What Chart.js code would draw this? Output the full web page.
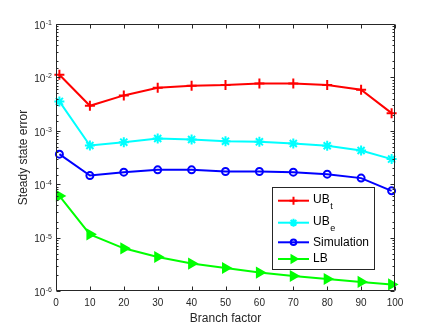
<!DOCTYPE html>
<html>
<head>
<meta charset="utf-8">
<script src="https://cdn.jsdelivr.net/npm/chart.js@4.4.0/dist/chart.umd.min.js"></script>
<style>
  html, body { margin: 0; padding: 0; background: #fff; }
  #wrap { width: 436px; height: 327px; }
</style>
</head>
<body>
<div id="wrap"><canvas id="errChart" width="436" height="327"></canvas></div>
<script>
// branch factor on x, steady state error on y (log)
var branchFactors = [1, 10, 20, 30, 40, 50, 60, 70, 80, 90, 99];
var ubT = [0.0112, 0.00294, 0.0046, 0.0064, 0.0070, 0.0072, 0.0077, 0.0077, 0.0072, 0.00587, 0.00214];
var ubE = [0.00355, 0.00053, 0.000613, 0.000718, 0.000688, 0.00064, 0.000622, 0.000579, 0.000524, 0.000428, 0.000295];
var simulation = [0.000365, 0.000145, 0.000168, 0.000186, 0.000186, 0.000173, 0.000173, 0.000168, 0.000154, 0.00013, 0.000075];
var lowerBound = [6.04e-5, 1.15e-5, 6.3e-6, 4.34e-6, 3.26e-6, 2.7e-6, 2.21e-6, 1.91e-6, 1.68e-6, 1.48e-6, 1.33e-6];
var seriesNames = [['UB', 't'], ['UB', 'e'], ['Simulation', ''], ['LB', '']];
var xTickValues = [0, 10, 20, 30, 40, 50, 60, 70, 80, 90, 100];

var axisColor = '#262626';
var fontFamily = '"Liberation Sans", Arial, Helvetica, sans-serif';

function toPoints(values) {
    return values.map(function (v, i) {
        return { x: branchFactors[i], y: v };
    });
}

function makeSet(name, values, color, style, radius, fill, rot) {
    return {
        label: name,
        data: toPoints(values),
        borderColor: color,
        backgroundColor: fill,
        borderWidth: 2,
        pointStyle: style,
        pointRadius: radius,
        pointRotation: rot || 0,
        pointBorderColor: color,
        pointBackgroundColor: fill,
        pointBorderWidth: 2,
        tension: 0,
        clip: false
    };
}

var datasets = [
    makeSet('UBt', ubT, '#ff0000', 'cross', 5, '#ff0000'),
    makeSet('UBe', ubE, '#00ffff', 'star', 5, '#00ffff'),
    makeSet('Simulation', simulation, '#0000ff', 'circle', 3.5, 'rgba(0,0,0,0)'),
    makeSet('LB', lowerBound, '#00ff00', 'triangle', 5, '#00ff00', 90)
];

function isPow10(v) {
    var l = Math.log10(v);
    return Math.abs(l - Math.round(l)) < 1e-9;
}

// box, inward ticks and y labels with exponents
var axesPlugin = {
    id: 'matlabAxes',
    afterDatasetsDraw: function (chart) {
        var ctx = chart.ctx;
        var a = chart.chartArea;
        var xs = chart.scales.x;
        var ys = chart.scales.y;
        ctx.save();
        ctx.strokeStyle = axisColor;
        ctx.lineWidth = 1;
        var L = Math.round(a.left) + 0.5, R = Math.round(a.right) - 0.5;
        var T = Math.round(a.top) + 0.5, B = Math.round(a.bottom) - 0.5;
        ctx.beginPath();
        ctx.rect(L, T, R - L, B - T);
        ctx.stroke();

        ctx.beginPath();
        xTickValues.forEach(function (v) {
            var px = Math.round(xs.getPixelForValue(v)) + 0.5;
            ctx.moveTo(px, B); ctx.lineTo(px, B - 4);
            ctx.moveTo(px, T); ctx.lineTo(px, T + 4);
        });
        ys.ticks.forEach(function (t) {
            var py = Math.round(ys.getPixelForValue(t.value)) + 0.5;
            var len = isPow10(t.value) ? 4 : 2;
            ctx.moveTo(L, py); ctx.lineTo(L + len, py);
            ctx.moveTo(R, py); ctx.lineTo(R - len, py);
        });
        ctx.stroke();

        ctx.fillStyle = axisColor;
        ctx.textBaseline = 'middle';
        ctx.textAlign = 'right';
        ys.ticks.forEach(function (t) {
            if (!isPow10(t.value)) return;
            var py = ys.getPixelForValue(t.value);
            var exp = String(Math.round(Math.log10(t.value)));
            ctx.font = '7px ' + fontFamily;
            var w = ctx.measureText(exp).width;
            var xr = a.left - 4;
            ctx.fillText(exp, xr, py - 1);
            ctx.font = '10px ' + fontFamily;
            ctx.fillText('10', xr - w - 0.5, py + 2);
        });
        ctx.restore();
    }
};

var legendPlugin = {
    id: 'boxLegend',
    afterDraw: function (chart) {
        var ctx = chart.ctx;
        var bx = 272.5, by = 187.5, bw = 102, bh = 82;
        var rows = [200.7, 222.7, 242.3, 259];
        ctx.save();
        ctx.fillStyle = '#ffffff';
        ctx.fillRect(bx, by, bw, bh);
        ctx.strokeStyle = axisColor;
        ctx.lineWidth = 1;
        ctx.strokeRect(bx, by, bw, bh);
        chart.data.datasets.forEach(function (ds, i) {
            var y = rows[i];
            ctx.strokeStyle = ds.borderColor;
            ctx.fillStyle = ds.pointBackgroundColor;
            ctx.lineWidth = 2;
            ctx.beginPath();
            ctx.moveTo(278, y); ctx.lineTo(309, y);
            ctx.stroke();
            Chart.helpers.drawPoint(ctx, {
                pointStyle: ds.pointStyle,
                rotation: ds.pointRotation,
                radius: ds.pointRadius * 0.8,
                borderWidth: 2
            }, 293.5, y);
            var name = seriesNames[i];
            ctx.fillStyle = '#000000';
            ctx.textAlign = 'left';
            ctx.textBaseline = 'middle';
            ctx.font = '12px ' + fontFamily;
            var ty = name[1] ? y - 1.5 : y;
            ctx.fillText(name[0], 313, ty);
            if (name[1]) {
                var w = ctx.measureText(name[0]).width;
                ctx.font = '9px ' + fontFamily;
                ctx.fillText(name[1], 313 + w + 0.5, y + 5.5);
            }
        });
        ctx.restore();
    }
};

var chart = new Chart(document.getElementById('errChart').getContext('2d'), {
    type: 'line',
    data: { datasets: datasets },
    options: {
        responsive: false,
        animation: false,
        devicePixelRatio: 1,
        layout: { padding: { top: 24, right: 41, left: 0, bottom: 0 } },
        plugins: {
            legend: { display: false },
            tooltip: { enabled: false }
        },
        scales: {
            x: {
                type: 'linear',
                min: 0,
                max: 100,
                afterFit: function (s) { s.height = 36; },
                grid: { display: false, drawTicks: false },
                border: { display: false },
                ticks: {
                    stepSize: 10,
                    padding: 6,
                    color: axisColor,
                    maxRotation: 0,
                    font: { size: 10, family: fontFamily }
                },
                title: {
                    display: true,
                    text: 'Branch factor',
                    color: axisColor,
                    padding: { top: 0, bottom: 1 },
                    font: { size: 12, family: fontFamily }
                }
            },
            y: {
                type: 'logarithmic',
                min: 1e-6,
                max: 1e-1,
                afterFit: function (s) { s.width = 56; },
                grid: { display: false },
                border: { display: false },
                ticks: { display: false, autoSkip: false },
                title: {
                    display: true,
                    text: 'Steady state error',
                    color: axisColor,
                    padding: { top: 16, bottom: 0 },
                    font: { size: 12, family: fontFamily }
                }
            }
        }
    },
    plugins: [axesPlugin, legendPlugin]
});
</script>
</body>
</html>
